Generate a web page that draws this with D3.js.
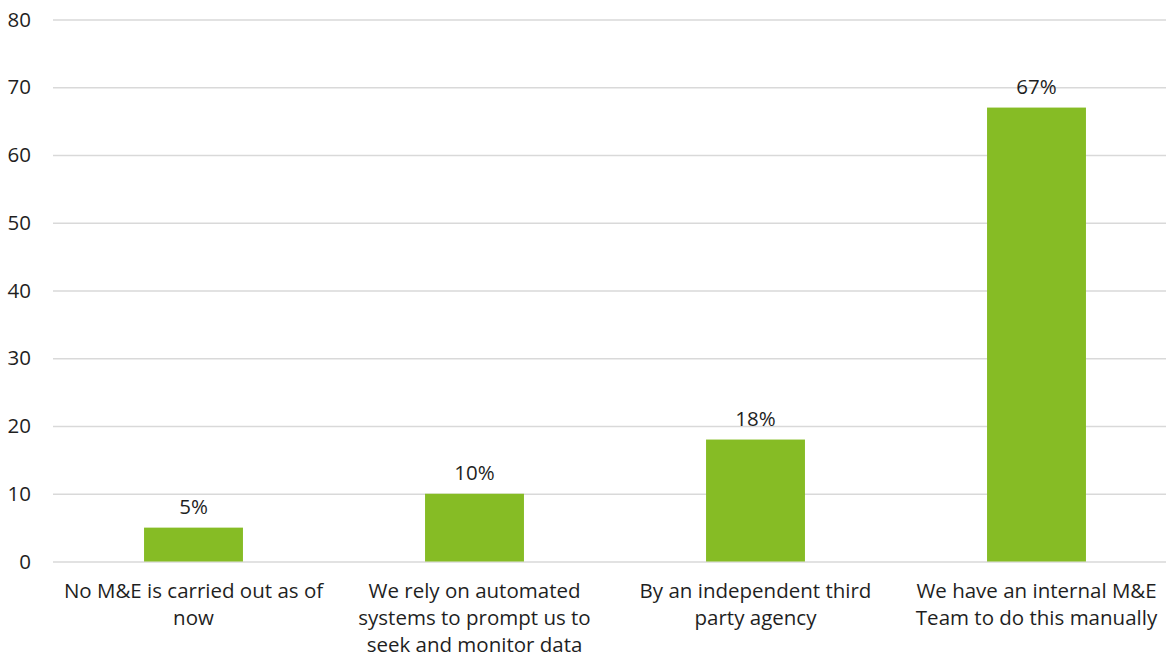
<!DOCTYPE html>
<html><head><meta charset="utf-8">
<script src="https://cdn.jsdelivr.net/npm/d3@7"></script>
<style>body{margin:0;background:#fff;} text{font-family:"Open Sans",sans-serif;fill:#1f1f1f;}</style>
</head><body>
<svg id="c" width="1166" height="656"></svg>
<script>
const categories = ["No M&E is carried out as of now","We rely on automated systems to prompt us to seek and monitor data","By an independent third party agency","We have an internal M&E Team to do this manually"];
const labelLines = [["No M&E is carried out as of","now"],["We rely on automated","systems to prompt us to","seek and monitor data"],["By an independent third","party agency"],["We have an internal M&E","Team to do this manually"]];
const values = [5,10,18,67];
const valueLabels = ["5%","10%","18%","67%"];
const yTicks = [0,10,20,30,40,50,60,70,80];

const svg = d3.select("#c");
const x = d3.scaleBand().domain(categories).range([53,1177]).paddingInner(0.648).paddingOuter(0.324);
const y = d3.scaleLinear().domain([0,80]).range([561.5,19.5]);

const yAxis = svg.append("g").attr("transform","translate(53,0)")
  .call(d3.axisLeft(y).tickValues(yTicks).tickSize(-1120).tickPadding(22));
yAxis.select(".domain").remove();
yAxis.selectAll(".tick line").attr("stroke","#d9d9d9").attr("stroke-width",1.3);
yAxis.selectAll(".tick text").style("font-size","20.5px").attr("fill","#1f1f1f");

svg.append("g").selectAll("rect").data(values).join("rect")
  .attr("x",(d,i)=>x(categories[i])).attr("width",x.bandwidth())
  .attr("y",d=>y(d)).attr("height",d=>y(0)-y(d)).attr("fill","#86bc25");

svg.append("g").selectAll("text").data(values).join("text")
  .attr("x",(d,i)=>x(categories[i])+x.bandwidth()/2).attr("y",d=>y(d)-14)
  .attr("text-anchor","middle").style("font-size","20.5px").text((d,i)=>valueLabels[i]);

const lab = svg.append("g").selectAll("text").data(categories).join("text")
  .attr("text-anchor","middle").style("font-size","20.5px")
  .attr("transform",(d)=>`translate(${x(d)+x.bandwidth()/2},598)`);
lab.each(function(d,i){
  d3.select(this).selectAll("tspan").data(labelLines[i]).join("tspan")
    .attr("x",0).attr("y",(l,j)=>j*27).text(l=>l);
});
</script>
</body></html>
